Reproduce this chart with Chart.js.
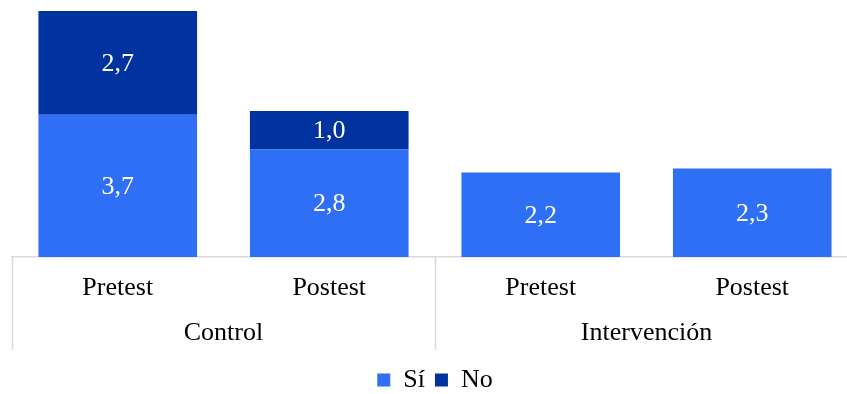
<!DOCTYPE html>
<html>
<head>
<meta charset="utf-8">
<script src="https://cdn.jsdelivr.net/npm/chart.js@4"></script>
<style>
  html, body { margin: 0; padding: 0; background: #fff; overflow: hidden; }
  #wrap { width: 858px; height: 394px; }
</style>
</head>
<body>
<div id="wrap"><canvas id="myChart" width="858" height="394"></canvas></div>
<script>
// categories
var phases = ["Pretest", "Postest", "Pretest", "Postest"];
var groups = ["Control", "Intervención"];
// series
var siValues = [3.7, 2.8, 2.2, 2.3];
var noValues = [2.7, 1.0, 0, 0];

var FONT = "'Liberation Serif', 'Times New Roman', serif";
var GRID = "#d9d9d9";

// labels in the middle of each segment
var valueLabels = {
    id: 'valueLabels',
    afterDatasetsDraw: function (chart) {
        var ctx = chart.ctx;
        ctx.save();
        ctx.fillStyle = "#ffffff";
        ctx.font = "26px " + FONT;
        ctx.textAlign = "center";
        ctx.textBaseline = "middle";
        chart.data.datasets.forEach(function (ds, i) {
            chart.getDatasetMeta(i).data.forEach(function (bar, j) {
                var v = ds.data[j];
                if (!v) return;
                var mid = (bar.y + bar.base) / 2;
                ctx.fillText(v.toFixed(1).replace('.', ','), bar.x, mid + 1);
            });
        });
        ctx.restore();
    }
};

// group labels + divider lines under the x axis
var groupAxis = {
    id: 'groupAxis',
    afterDraw: function (chart) {
        var ctx = chart.ctx;
        var x = chart.scales.x;
        var top = chart.chartArea.bottom;
        var bottom = top + 93;
        var step = x.getPixelForValue(1) - x.getPixelForValue(0);
        ctx.save();
        ctx.strokeStyle = GRID;
        ctx.lineWidth = 1.5;
        [0, 2, 4].forEach(function (k) {
            var px = Math.round(x.getPixelForValue(k) - step / 2) + 0.5;
            ctx.beginPath();
            ctx.moveTo(px, top);
            ctx.lineTo(px, bottom);
            ctx.stroke();
        });
        ctx.fillStyle = "#000000";
        ctx.font = "26px " + FONT;
        ctx.textAlign = "center";
        ctx.textBaseline = "middle";
        groups.forEach(function (g, k) {
            var cx = (x.getPixelForValue(k * 2) + x.getPixelForValue(k * 2 + 1)) / 2;
            ctx.fillText(g, cx, top + 76);
        });
        ctx.restore();
    }
};

var ctx = document.getElementById("myChart").getContext('2d');
var myChart = new Chart(ctx, {
    type: 'bar',
    data: {
        labels: phases,
        datasets: [{
            label: "Sí",
            data: siValues,
            backgroundColor: "#2f6ff5"
        }, {
            label: "No",
            data: noValues,
            backgroundColor: "#0033a0"
        }]
    },
    plugins: [valueLabels, groupAxis],
    options: {
        responsive: false,
        animation: false,
        layout: { padding: { left: 12, right: 0, top: 11, bottom: 0 } },
        datasets: { bar: { categoryPercentage: 1, barPercentage: 0.75 } },
        scales: {
            x: {
                stacked: true,
                grid: { display: false, drawTicks: false },
                border: { color: GRID, width: 1.5 },
                ticks: { color: "#000", font: { family: FONT, size: 26 }, padding: 16 },
                afterFit: function (s) { s.height = 100; }
            },
            y: {
                stacked: true,
                display: false,
                min: 0,
                max: 6.4
            }
        },
        plugins: {
            tooltip: { enabled: false },
            legend: {
                position: 'bottom',
                maxHeight: 37,
                labels: {
                    color: "#000",
                    font: { family: FONT, size: 26 },
                    boxWidth: 13,
                    boxHeight: 13,
                    padding: 10
                }
            }
        }
    }
});
</script>
</body>
</html>
